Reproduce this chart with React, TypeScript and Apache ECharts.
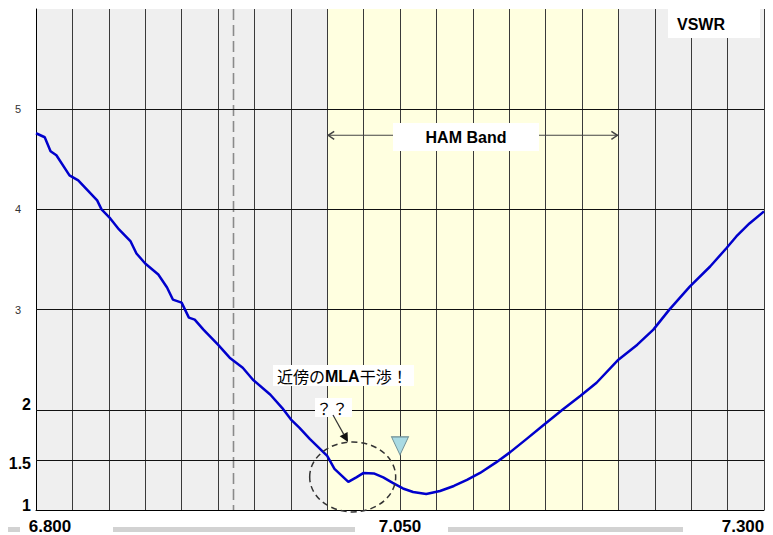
import { useEffect, useRef } from "react";
import * as echarts from "echarts";

// Swept VSWR of the antenna, frequency in MHz
const freqMHz = [
  6.8, 6.806, 6.81, 6.814, 6.823, 6.829, 6.842, 6.845, 6.851, 6.857, 6.865,
  6.869, 6.875, 6.884, 6.89, 6.894, 6.9, 6.905, 6.909, 6.915, 6.925, 6.933,
  6.942, 6.949, 6.961, 6.969, 6.975, 6.981, 6.988, 7.0, 7.005, 7.0145, 7.02,
  7.025, 7.032, 7.0385, 7.045, 7.052, 7.059, 7.068, 7.0775, 7.087, 7.096, 7.105,
  7.116, 7.1255, 7.137, 7.148, 7.162, 7.174, 7.185, 7.2, 7.213, 7.224, 7.235,
  7.249, 7.263, 7.274, 7.281, 7.29, 7.3,
];
const vswr = [
  4.76, 4.72, 4.58, 4.54, 4.34, 4.29, 4.09, 4.0, 3.91, 3.8, 3.68, 3.56, 3.46,
  3.35, 3.22, 3.1, 3.07, 2.92, 2.9, 2.8, 2.65, 2.52, 2.42, 2.3, 2.15, 2.02,
  1.905, 1.82, 1.71, 1.54, 1.41, 1.28, 1.325, 1.37, 1.365, 1.325, 1.27, 1.215,
  1.18, 1.16, 1.19, 1.24, 1.3, 1.37, 1.475, 1.575, 1.71, 1.84, 2.005, 2.14,
  2.27, 2.5, 2.65, 2.8, 3.0, 3.23, 3.43, 3.61, 3.73, 3.86, 3.98,
];

const freqRange = [6.8, 7.3];
const freqStep = 0.025;
const freqTickLabels = [6.8, 7.05, 7.3];
const vswrRange = [1, 6];
const vswrGridLines = [1.5, 2, 3, 4, 5];
const vswrTickLabels = [1, 1.5, 2, 3, 4, 5];
const vswrBoldLabels = [1, 1.5, 2];
const hamBand = [7.0, 7.2];
const refFreq = 6.935;
const markerFreq = 7.05;
const markerVswr = 1.64;
const dipCenter = [7.0175, 1.33];
const bandArrowVswr = 4.74;

const LATIN = "'Liberation Sans', Arial, sans-serif";
const CJK = "'Noto Sans CJK JP', 'Liberation Sans', sans-serif";

const near = (a: number, b: number) => Math.abs(a - b) < 1e-6;

export default function App() {
  const ref = useRef<HTMLDivElement>(null);

  useEffect(() => {
    if (!ref.current) return;
    const chart = echarts.init(ref.current, undefined, { renderer: "svg" });

    const yRich: Record<string, object> = {
      s: { fontFamily: LATIN, fontSize: 11, color: "#333", padding: [0, 10, 0, 0] },
      b2: { fontFamily: LATIN, fontSize: 16, fontWeight: "bold", color: "#000", padding: [0, 0, 11, 0] },
      b15: { fontFamily: LATIN, fontSize: 16, fontWeight: "bold", color: "#000", padding: [8, 0, 0, 0] },
      b1: { fontFamily: LATIN, fontSize: 16, fontWeight: "bold", color: "#000", padding: [0, 0, 10, 0] },
    };
    const boldKey = ["b1", "b15", "b2"];

    const option: echarts.EChartsOption = {
      animation: false,
      backgroundColor: "#fff",
      grid: { left: 36, right: 9, top: 9, bottom: 24, show: false },
      xAxis: {
        type: "value",
        min: freqRange[0],
        max: freqRange[1],
        interval: freqStep,
        z: 2,
        axisLine: { show: true, lineStyle: { color: "#000", width: 1 } },
        axisTick: { show: false },
        splitLine: { show: true, lineStyle: { color: "#3a3a3a", width: 1 } },
        axisLabel: {
          showMinLabel: true,
          showMaxLabel: true,
          margin: 8,
          formatter: (v: number) => {
            if (near(v, freqTickLabels[0])) return `{first|${v.toFixed(3)}}`;
            if (near(v, freqTickLabels[freqTickLabels.length - 1])) return `{last|${v.toFixed(3)}}`;
            if (freqTickLabels.some((t) => near(t, v))) return `{mid|${v.toFixed(3)}}`;
            return "";
          },
          rich: {
            first: { fontFamily: LATIN, fontSize: 17, fontWeight: "bold", color: "#000", padding: [0, 0, 0, 28] },
            mid: { fontFamily: LATIN, fontSize: 17, fontWeight: "bold", color: "#000" },
            last: { fontFamily: LATIN, fontSize: 17, fontWeight: "bold", color: "#000", padding: [0, 42, 0, 0] },
          },
        },
      },
      yAxis: {
        type: "value",
        min: vswrRange[0],
        max: vswrRange[1],
        interval: 0.5,
        z: 2,
        axisLine: { show: true, lineStyle: { color: "#000", width: 1 } },
        axisTick: { show: false },
        splitLine: { show: false },
        axisLabel: {
          margin: 5,
          showMinLabel: true,
          formatter: (v: number) => {
            const bi = vswrBoldLabels.findIndex((t) => near(t, v));
            if (bi >= 0) return `{${boldKey[bi]}|${v}}`;
            if (vswrTickLabels.some((t) => near(t, v))) return `{s|${v}}`;
            return "";
          },
          rich: yRich,
        },
      },
      series: [
        {
          // plot background and the amateur band shading
          type: "line",
          data: [],
          z: 1,
          silent: true,
          markArea: {
            silent: true,
            data: [
              [{ xAxis: freqRange[0], itemStyle: { color: "#efefef" } }, { xAxis: freqRange[1] }],
              [{ xAxis: hamBand[0], itemStyle: { color: "#ffffe0" } }, { xAxis: hamBand[1] }],
            ],
          },
        },
        {
          // horizontal VSWR grid
          type: "line",
          data: [],
          z: 3,
          silent: true,
          markLine: {
            silent: true,
            symbol: "none",
            label: { show: false },
            data: vswrGridLines.map((y) => ({
              yAxis: y,
              lineStyle: { color: "#111", width: 1, type: "solid" as const },
            })),
          },
        },
        {
          name: "VSWR",
          type: "line",
          z: 5,
          data: freqMHz.map((f, i) => [f, vswr[i]]),
          showSymbol: false,
          smooth: false,
          lineStyle: { color: "#0000cc", width: 2.5 },
          markPoint: {
            silent: true,
            symbol: "triangle",
            symbolRotate: 180,
            symbolSize: [17, 18],
            label: { show: false },
            itemStyle: { color: "#a9dbe3", borderColor: "#6f8f95", borderWidth: 1 },
            data: [{ coord: [markerFreq, markerVswr] }],
          },
        },
      ],
    };

    chart.setOption(option);

    const px = (f: number, v: number) =>
      chart.convertToPixel({ gridIndex: 0 }, [f, v]) as number[];

    const [bx0, by] = px(hamBand[0], bandArrowVswr);
    const [bx1] = px(hamBand[1], bandArrowVswr);
    const [cx, cy] = px(dipCenter[0], dipCenter[1]);
    const [rx, ryTop] = px(refFreq, vswrRange[1]);
    const [, ryBottom] = px(refFreq, vswrRange[0]);

    // callout arrow from the question marks to the dip
    const tail = [333, 415];
    const tip = [348, 442];
    const dx = tip[0] - tail[0];
    const dy = tip[1] - tail[1];
    const len = Math.hypot(dx, dy);
    const ux = dx / len;
    const uy = dy / len;
    const baseX = tip[0] - 9 * ux;
    const baseY = tip[1] - 9 * uy;
    const head = [
      tip,
      [baseX - 4.5 * uy, baseY + 4.5 * ux],
      [baseX + 4.5 * uy, baseY - 4.5 * ux],
    ];

    chart.setOption({
      graphic: [
        // reference frequency cursor
        {
          type: "line",
          z: 4,
          shape: { x1: Math.round(rx) + 0.5, y1: ryTop, x2: Math.round(rx) + 0.5, y2: ryBottom },
          style: { stroke: "#8a8a8a", lineWidth: 1.6, lineDash: [11, 5] },
        },
        // scroll bars under the frequency axis
        { type: "rect", z: 10, shape: { x: 8, y: 527, width: 12, height: 5 }, style: { fill: "#d2d2d2" } },
        { type: "rect", z: 10, shape: { x: 113, y: 527, width: 242, height: 5 }, style: { fill: "#d2d2d2" } },
        { type: "rect", z: 10, shape: { x: 448, y: 527, width: 235, height: 5 }, style: { fill: "#d2d2d2" } },
        // trace name
        { type: "rect", z: 10, shape: { x: 668, y: 9, width: 92, height: 29 }, style: { fill: "#fff" } },
        {
          type: "text",
          z: 11,
          x: 677,
          y: 24,
          style: { text: "VSWR", font: `bold 16px ${LATIN}`, fill: "#000", verticalAlign: "middle" },
        },
        // band span arrow
        { type: "line", z: 10, shape: { x1: bx0, y1: by, x2: bx1, y2: by }, style: { stroke: "#444", lineWidth: 1.2 } },
        {
          type: "polyline",
          z: 10,
          shape: { points: [[bx0 + 7, by - 4], [bx0 + 1, by], [bx0 + 7, by + 4]] },
          style: { stroke: "#444", lineWidth: 1.5, fill: "none" },
        },
        {
          type: "polyline",
          z: 10,
          shape: { points: [[bx1 - 7, by - 4], [bx1 - 1, by], [bx1 - 7, by + 4]] },
          style: { stroke: "#444", lineWidth: 1.5, fill: "none" },
        },
        { type: "rect", z: 11, shape: { x: 393, y: 123, width: 146, height: 28 }, style: { fill: "#fff" } },
        {
          type: "text",
          z: 12,
          x: 466,
          y: 137,
          style: { text: "HAM Band", font: `bold 16px ${LATIN}`, fill: "#000", align: "center", verticalAlign: "middle" },
        },
        // interference note
        { type: "rect", z: 10, shape: { x: 273, y: 365, width: 141, height: 21 }, style: { fill: "#fff" } },
        {
          type: "text",
          z: 11,
          x: 277,
          y: 376,
          style: {
            text: "{n|近傍の}{b|MLA}{n|干渉！}",
            verticalAlign: "middle",
            rich: {
              n: { fontFamily: CJK, fontSize: 16, fill: "#000" },
              b: { fontFamily: LATIN, fontSize: 16, fontWeight: "bold", fill: "#000" },
            },
          } as any,
        },
        { type: "rect", z: 10, shape: { x: 315, y: 398, width: 37, height: 19 }, style: { fill: "#fff" } },
        {
          type: "text",
          z: 11,
          x: 316,
          y: 408,
          style: { text: "？？", font: `16px ${CJK}`, fill: "#000", verticalAlign: "middle" },
        },
        {
          type: "line",
          z: 10,
          shape: { x1: tail[0], y1: tail[1], x2: baseX, y2: baseY },
          style: { stroke: "#333", lineWidth: 1.2 },
        },
        { type: "polygon", z: 10, shape: { points: head }, style: { fill: "#111" } },
        // dashed ring around the dip
        {
          type: "ellipse",
          z: 10,
          shape: { cx, cy, rx: 43, ry: 35 },
          style: { fill: "none", stroke: "#333", lineWidth: 1.5, lineDash: [6, 4] },
        },
      ],
    });

    return () => chart.dispose();
  }, []);

  return (
    <div
      ref={ref}
      style={{ position: "fixed", left: 0, top: 0, width: 773, height: 535, background: "#fff" }}
    />
  );
}
